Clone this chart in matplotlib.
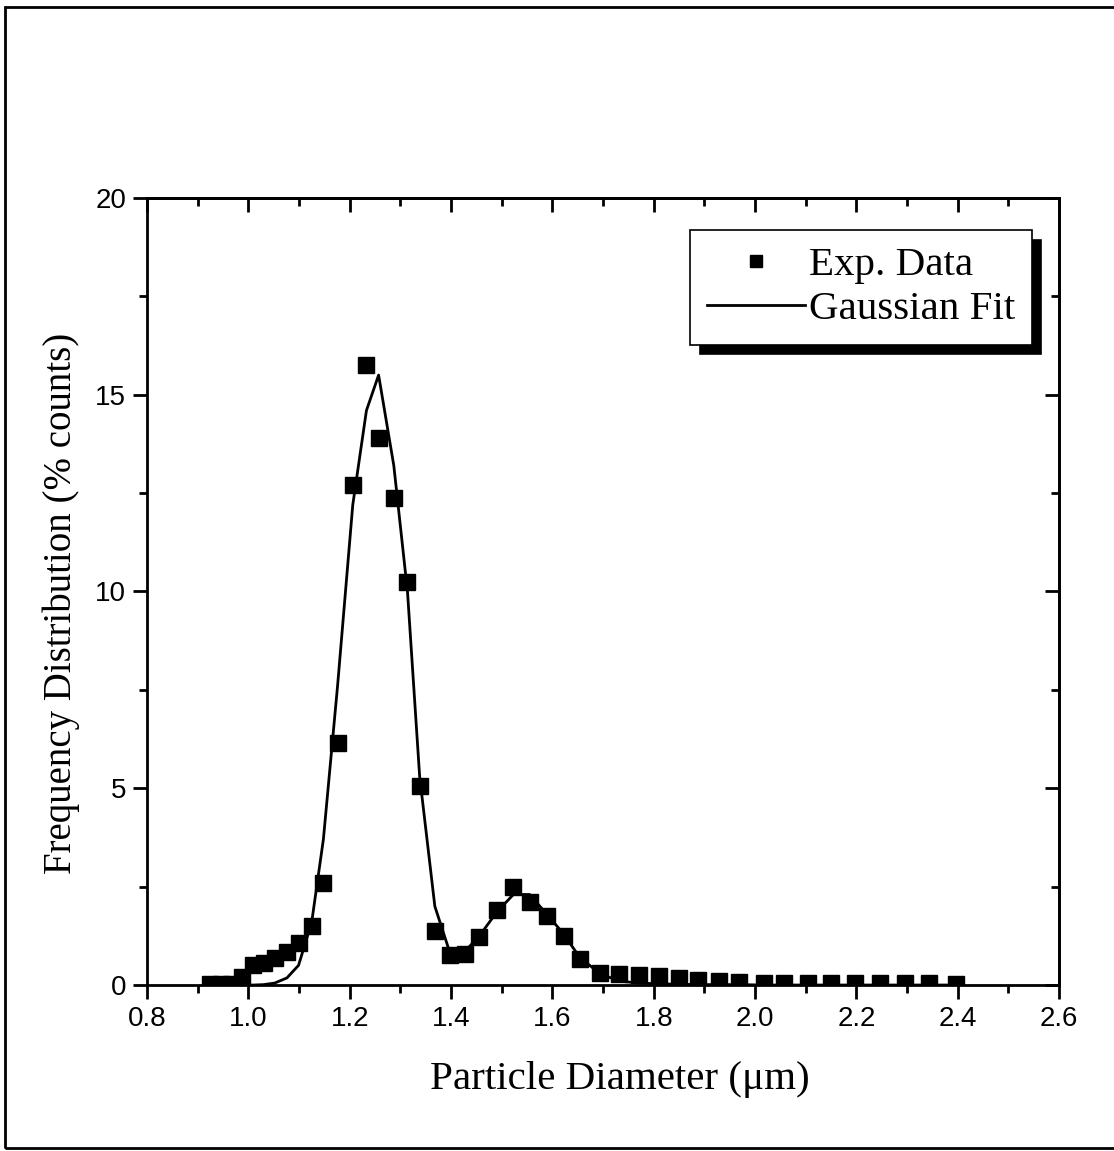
import matplotlib
matplotlib.use("Agg")
import matplotlib.pyplot as plt
from matplotlib.patches import Rectangle
from matplotlib.ticker import MultipleLocator

# particle diameter (um)
diam = [0.925, 0.945, 0.965, 0.987, 1.010, 1.030, 1.052, 1.076, 1.099, 1.125, 1.148,
        1.176, 1.206, 1.233, 1.257, 1.287, 1.314, 1.338, 1.368, 1.397, 1.427,
        1.456, 1.490, 1.523, 1.555, 1.589, 1.622, 1.654, 1.693,
        1.731, 1.770, 1.810, 1.849, 1.888, 1.928, 1.969,
        2.017, 2.058, 2.104, 2.149, 2.198, 2.246, 2.295, 2.344, 2.396]
# measured frequency (% counts)
exp_data = [0.02, 0.02, 0.03, 0.2, 0.5, 0.55, 0.68, 0.84, 1.07, 1.5, 2.6,
            6.15, 12.7, 15.76, 13.9, 12.38, 10.24, 5.06, 1.37, 0.76, 0.78,
            1.22, 1.9, 2.49, 2.11, 1.75, 1.25, 0.66, 0.3,
            0.28, 0.25, 0.22, 0.17, 0.13, 0.1, 0.08,
            0.06, 0.05, 0.05, 0.05, 0.05, 0.05, 0.04, 0.04, 0.03]
# gaussian fit
gauss_fit = [0, 0, 0, 0, 0, 0.01, 0.05, 0.18, 0.5, 1.6, 3.7,
             7.6, 12.2, 14.6, 15.5, 13.2, 10.0, 5.3, 2.0, 0.85, 0.85,
             1.25, 1.85, 2.3, 2.3, 1.8, 1.3, 0.7, 0.3,
             0.1, 0.05, 0.03, 0.02, 0.01, 0.01, 0.01,
             0, 0, 0, 0, 0, 0, 0, 0, 0]

serif = "Liberation Serif"
sans = "Liberation Sans"

fig = plt.figure(figsize=(11.14, 11.51), dpi=100)
ax = fig.add_axes([0.132, 0.1442, 0.8187, 0.6838])

ax.plot(diam, exp_data, ls="none", marker="s", ms=11, color="black", label="Exp. Data")
ax.plot(diam, gauss_fit, color="black", lw=2, label="Gaussian Fit")

ax.set_xlim(0.8, 2.6)
ax.set_ylim(0, 20)
ax.xaxis.set_major_locator(MultipleLocator(0.2))
ax.xaxis.set_minor_locator(MultipleLocator(0.1))
ax.yaxis.set_major_locator(MultipleLocator(5))
ax.yaxis.set_minor_locator(MultipleLocator(2.5))
ax.set_xticks([0.8, 1.0, 1.2, 1.4, 1.6, 1.8, 2.0, 2.2, 2.4, 2.6])
ax.set_xticklabels(["0.8", "1.0", "1.2", "1.4", "1.6", "1.8", "2.0", "2.2", "2.4", "2.6"])

for s in ax.spines.values():
    s.set_linewidth(2)
ax.tick_params(which="both", direction="out", width=2, labelsize=20, pad=5)
ax.tick_params(which="major", length=10)
ax.tick_params(which="minor", length=6)
for lab in ax.get_xticklabels() + ax.get_yticklabels():
    lab.set_fontfamily(sans)
    lab.set_fontsize(20)

# mirrored inward ticks on top and right
ax2 = ax.secondary_xaxis("top")
ax2.xaxis.set_major_locator(MultipleLocator(0.2))
ax2.xaxis.set_minor_locator(MultipleLocator(0.1))
ax2.tick_params(which="both", direction="in", width=2, labeltop=False)
ax2.tick_params(which="major", length=10)
ax2.tick_params(which="minor", length=6)
ax3 = ax.secondary_yaxis("right")
ax3.yaxis.set_major_locator(MultipleLocator(5))
ax3.yaxis.set_minor_locator(MultipleLocator(2.5))
ax3.tick_params(which="both", direction="in", width=2, labelright=False)
ax3.tick_params(which="major", length=10)
ax3.tick_params(which="minor", length=6)
for a in (ax2, ax3):
    for s in a.spines.values():
        s.set_linewidth(2)

ax.set_xlabel("Particle Diameter (\u03bcm)", fontfamily=serif, fontsize=29.5)
ax.xaxis.set_label_coords(0.518, -0.096)
ax.set_ylabel("Frequency Distribution (% counts)", fontfamily=serif, fontsize=28)
ax.yaxis.set_label_coords(-0.074, 0.485)

leg = ax.legend(loc="upper right", bbox_to_anchor=(0.970, 0.959), borderaxespad=0,
                prop={"family": serif, "size": 29.5}, frameon=True, fancybox=False,
                edgecolor="black", framealpha=1, handlelength=2.4, handletextpad=0.1,
                borderpad=0.4, labelspacing=0.15, markerscale=0.8,
                shadow={"color": "black", "alpha": 1, "ox": 7, "oy": -7})
leg.get_frame().set_linewidth(1.2)

# outer frame round the figure
fig.patches.append(Rectangle((5 / 1114, 3 / 1151), 1.2, 1 - 10 / 1151,
                             transform=fig.transFigure, fill=False,
                             edgecolor="black", lw=2))

fig.savefig("out.png", dpi=100)
